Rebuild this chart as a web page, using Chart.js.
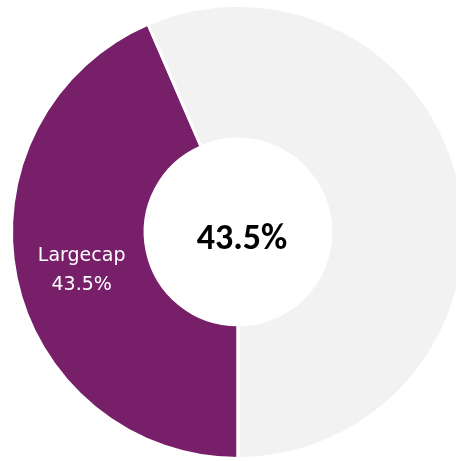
<!DOCTYPE html>
<html>
<head>
<meta charset="utf-8">
<script src="https://cdn.jsdelivr.net/npm/chart.js@4.4.0/dist/chart.umd.min.js"></script>
<style>
  html, body { margin: 0; padding: 0; background: #fff; overflow: hidden; }
  #wrap { position: relative; width: 476px; height: 466px; }
</style>
</head>
<body>
<div id="wrap"><canvas id="donut"></canvas></div>
<script>
const categories = ['Largecap', 'Other'];
const values = [43.5, 56.5];
const colors = ['#781f6a', '#f2f2f2'];
const centerText = '43.5%';

// draws the big number in the hole and the white label on the purple slice
const labelPlugin = {
    id: 'donutLabels',
    afterDatasetsDraw(chart) {
        const ctx = chart.ctx;
        const arc = chart.getDatasetMeta(0).data[0];
        const cx = arc.x, cy = arc.y;
        ctx.save();
        ctx.textAlign = 'center';
        ctx.textBaseline = 'alphabetic';
        ctx.fillStyle = '#000';
        ctx.font = 'bold 36px Carlito';
        ctx.fillText(centerText, cx + 4, cy + 17);

        const p = arc.getCenterPoint();
        ctx.fillStyle = '#fff';
        ctx.font = '19px "DejaVu Sans"';
        ctx.fillText(categories[0], p.x, p.y - 3);
        ctx.fillText(values[0].toFixed(1) + '%', p.x, p.y + 26);
        ctx.restore();
    }
};

function drawChart() {
    const ctx = document.getElementById('donut').getContext('2d');
    new Chart(ctx, {
        type: 'doughnut',
        data: {
            labels: categories,
            datasets: [{
                data: values,
                backgroundColor: colors,
                borderColor: '#ffffff',
                borderWidth: 3
            }]
        },
        options: {
            responsive: true,
            maintainAspectRatio: false,
            animation: false,
            rotation: 180,
            cutout: '41%',
            layout: { padding: { top: 4, bottom: 6 } },
            plugins: {
                legend: { display: false },
                tooltip: { enabled: false }
            }
        },
        plugins: [labelPlugin]
    });
}

Promise.all([
    document.fonts.load('bold 36px Carlito'),
    document.fonts.load('19px "DejaVu Sans"')
]).then(drawChart, drawChart);
</script>
</body>
</html>
